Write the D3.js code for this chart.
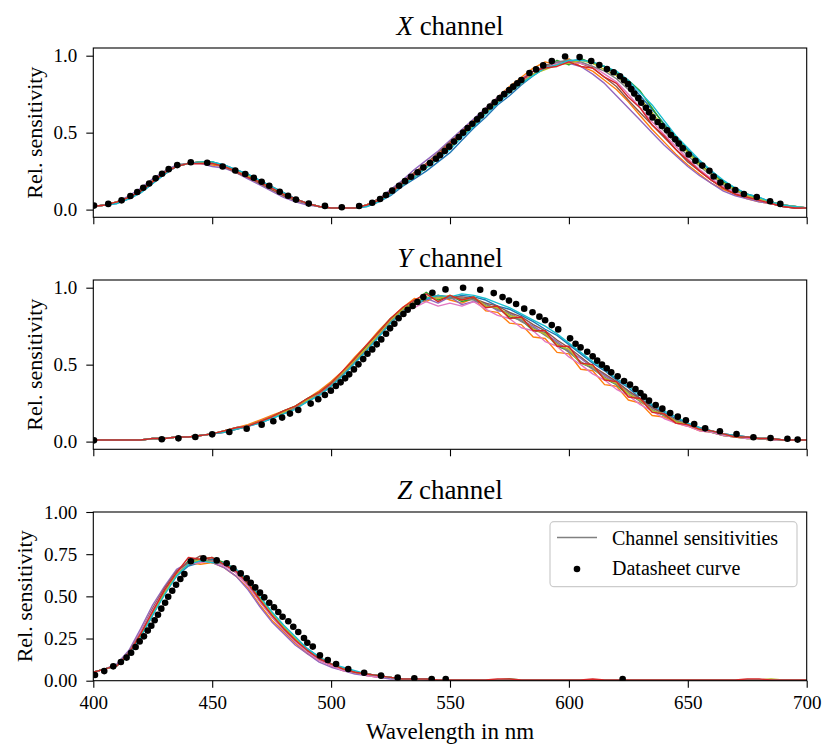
<!DOCTYPE html>
<html>
<head>
<meta charset="utf-8">
<script src="https://cdn.jsdelivr.net/npm/d3@7"></script>
<style>
    body { margin: 0; background: #fff; }
    svg text { font-family: "Liberation Serif", "DejaVu Serif", serif; fill: #000; }
</style>
</head>
<body>
<div id="chart"></div>
<script>

// wavelength grid of the measured channel curves (nm)
const wavelengths = [400,405,410,415,420,425,430,435,440,445, 450,455,460,465,470,475,480,485,490,495,
    500,505,510,515,520,525,530,535,540,545, 550,555,560,565,570,575,580,585,590,595,
    600,605,610,615,620,625,630,635,640,645, 650,655,660,665,670,675,680,685,690,695, 700];

// relative sensitivities in percent, one row per sensor
const xChannelCurves = [
    [2,3,4,7,11,17,23,28,30,31, 31,29,26,23,19,15,11,7,4,2, 1,1,1,2,5,9,15,20,25,31, 37,45,53,60,68,74,81,87,92,95, 96,98,95,93,88,83,74,65,56,47, 39,31,25,18,14,10,8,5,3,2, 1],
    [2,3,5,8,13,19,25,28,30,30, 29,28,24,21,17,13,9,6,4,2, 1,1,1,3,7,12,18,24,30,36, 43,51,58,66,73,80,86,92,96,94, 98,93,90,84,78,70,61,52,44,36, 29,23,17,13,10,7,5,4,2,1, 1],
    [2,3,5,8,12,18,24,29,30,31, 31,28,25,22,18,14,10,7,4,2, 1,1,1,3,6,11,17,23,28,34, 40,48,55,63,70,78,83,88,92,97, 94,98,95,93,89,84,77,66,55,47, 38,30,23,18,13,10,7,5,3,2, 1],
    [2,3,5,9,14,20,25,29,30,30, 28,27,24,20,16,12,8,5,3,2, 1,1,1,3,7,13,19,26,32,38, 45,52,59,66,73,79,85,90,93,96, 95,93,88,82,74,66,58,50,42,35, 28,22,17,12,9,7,5,4,2,1, 1],
    [2,3,5,8,12,18,24,28,30,31, 30,28,24,21,17,13,9,6,4,2, 1,1,1,3,7,12,18,24,30,37, 44,50,57,65,72,78,84,88,94,95, 97,95,92,86,80,71,63,55,47,39, 31,25,19,14,10,8,6,4,2,1, 1],
    [2,3,5,8,12,18,24,28,30,30, 30,28,25,22,18,14,10,7,4,2, 1,1,1,3,6,11,17,22,28,34, 41,48,56,63,71,76,83,88,92,95, 96,95,93,88,83,75,66,57,49,41, 33,26,20,15,11,8,6,4,3,2, 1],
    [2,3,5,8,12,18,23,28,30,31, 30,28,25,22,19,15,11,7,4,2, 1,1,1,3,6,10,16,22,28,34, 40,48,56,63,70,77,82,88,93,96, 97,96,93,90,85,78,69,60,51,43, 35,28,22,16,12,9,7,5,3,2, 1],
    [2,3,5,8,12,18,24,28,30,31, 30,28,25,22,18,14,10,7,4,2, 1,1,1,3,6,11,16,21,27,33, 40,48,55,63,70,76,82,88,91,94, 95,97,95,91,87,80,72,63,53,45, 37,29,23,17,13,9,7,5,3,2, 1],
    [2,3,4,7,11,17,23,28,30,31, 31,29,26,23,19,15,11,7,4,2, 1,1,1,2,5,10,16,21,27,33, 39,47,54,62,69,76,82,87,92,94, 97,97,96,93,90,84,76,68,58,48, 40,32,25,19,14,10,8,5,3,2, 1],
    [2,3,5,8,12,18,24,28,30,30, 30,28,25,21,18,14,10,7,4,2, 1,1,1,3,6,11,17,23,29,35, 43,50,56,65,71,78,84,90,92,93, 96,93,92,86,82,73,66,55,48,39, 32,25,19,14,10,8,6,4,2,1, 1]
];

const yChannelCurves = [
    [1,1,1,1,1,2,2,3,3,4, 5,6,8,10,12,15,18,22,26,30, 36,43,51,59,68,77,84,89,92,95, 93,95,94,92,88,86,82,78,73,69, 63,57,51,46,40,35,28,23,19,15, 12,9,7,5,4,3,2,2,1,1, 1],
    [1,1,1,1,1,2,2,3,3,4, 5,7,9,11,14,17,20,23,28,33, 39,46,55,63,72,80,87,93,91,95, 92,90,93,85,84,77,76,68,67,58, 57,47,46,37,36,27,25,17,16,12, 10,7,6,4,3,2,2,1,1,1, 1],
    [1,1,1,1,1,2,2,3,3,4, 5,7,9,10,13,16,20,23,28,32, 38,45,54,62,71,80,86,91,97,92, 95,91,93,88,87,81,79,72,71,62, 59,51,48,41,37,30,27,20,17,13, 11,8,6,4,3,2,2,1,1,1, 1],
    [1,1,1,1,1,2,2,3,3,4, 5,7,9,10,13,16,19,22,27,31, 37,44,52,60,69,78,84,89,93,90, 94,89,91,90,85,84,79,75,70,65, 59,54,48,43,38,33,27,22,18,14, 11,8,7,5,3,3,2,2,1,1, 1],
    [1,1,1,1,1,2,2,3,3,4, 5,6,8,10,13,16,19,22,27,31, 37,44,52,61,70,79,85,91,93,95, 94,94,93,90,88,84,81,76,72,66, 61,55,49,44,39,33,28,22,18,14, 11,9,7,5,4,3,2,2,1,1, 1],
    [1,1,1,1,1,2,2,3,3,4, 5,7,9,10,13,16,19,22,27,31, 37,44,52,61,70,78,84,87,91,88, 90,88,91,86,82,80,74,72,65,62, 55,50,44,40,34,30,24,20,15,12, 10,7,6,4,3,2,2,1,1,1, 1],
    [1,1,1,1,1,2,2,3,3,4, 5,7,9,10,13,16,19,22,27,31, 37,44,52,60,69,78,85,90,93,94, 93,93,92,89,86,83,78,74,69,64, 58,52,47,42,37,32,26,21,17,14, 11,8,7,5,3,3,2,2,1,1, 1],
    [1,1,1,1,1,2,2,3,3,4, 5,7,9,10,13,16,19,23,27,32, 38,45,53,61,70,79,86,90,94,93, 95,92,94,88,87,82,80,73,70,63, 60,51,49,41,38,31,27,20,18,13, 11,8,7,5,3,3,2,2,1,1, 1],
    [1,1,1,1,1,2,2,3,3,4, 5,6,8,10,12,15,18,21,26,30, 36,43,51,59,68,77,84,89,93,95, 94,96,95,93,90,87,83,79,75,70, 64,58,52,47,41,36,30,24,20,16, 12,9,7,5,4,3,2,2,1,1, 1],
    [1,1,1,1,1,2,2,3,3,4, 5,7,9,10,13,16,20,23,28,32, 38,46,54,63,71,80,87,92,96,91, 95,92,94,87,88,80,81,72,72,62, 62,51,50,40,39,29,28,19,18,12, 11,8,7,5,3,3,2,2,1,1, 1]
];

const zChannelCurves = [
    [5,7,9,15,26,39,52,62,68,70, 72,70,66,59,49,40,32,25,19,14, 10,7,5,4,3,2,1,1,1,.5, .5,.5,.5,.5,.5,.5,.5,.5,.5,.5, .5,.5,.5,.5,.5,.5,.5,.5,.5,.5, .5,.5,.5,.5,.5,.5,.5,.5,.5,.5, .5],
    [5,7,9,16,27,40,52,63,70,69, 70,67,62,55,45,36,29,22,16,12, 9,6,5,3,2,2,1,1,1,.5, .5,.5,.5,.5,.5,.5,.5,.5,.5,.5, .5,.5,.5,.5,.5,.5,.5,.5,.5,.5, .5,.5,.5,.5,.5,.5,.5,.5,.5,.5, .5],
    [5,7,9,16,28,41,53,64,71,72, 73,70,65,58,48,39,31,24,18,13, 10,7,5,4,3,2,1,1,1,.5, .5,.5,.5,.5,.5,1,.5,.5,.5,.5, .5,.5,.5,.5,.5,.5,.5,.5,.5,.5, .5,.5,.5,.5,.5,.5,.5,.5,.5,.5, .5],
    [5,7,10,18,31,45,56,66,70,71, 70,67,62,54,44,35,28,21,16,11, 8,6,4,3,2,1,1,1,.5,.5, .5,.5,.5,.5,.5,.5,.5,.5,.5,.5, .5,.5,.5,.5,.5,.5,.5,.5,.5,.5, .5,.5,.5,.5,.5,.5,.5,.5,.5,.5, .5],
    [5,7,9,17,29,43,55,65,70,74, 71,69,64,57,47,38,30,23,17,13, 9,7,5,4,3,2,1,1,1,.5, .5,.5,.5,.5,.5,.5,.5,.5,.5,.5, .5,.5,.5,.5,.5,.5,.5,.5,.5,.5, .5,.5,.5,.5,.5,.5,.5,.5,.5,.5, .5],
    [5,7,9,16,29,42,54,64,69,70, 71,68,64,56,47,38,30,23,17,12, 9,6,5,3,2,2,1,1,1,.5, .5,.5,.5,.5,.5,.5,.5,.5,.5,.5, .5,.5,.5,.5,.5,.5,.5,.5,.5,.5, .5,.5,.5,.5,.5,.5,.5,.5,.5,.5, .5],
    [5,7,9,16,28,41,53,63,69,71, 71,69,65,58,48,39,31,24,18,13, 10,7,5,4,3,2,1,1,1,.5, .5,.5,.5,.5,.5,.5,.5,.5,.5,.5, .5,.5,.5,.5,.5,.5,.5,.5,.5,.5, .5,.5,.5,.5,.5,.5,.5,.5,.5,.5, .5],
    [5,7,9,15,27,40,52,63,69,72, 70,70,66,58,49,40,32,25,18,14, 10,7,5,4,3,2,1,1,1,.5, .5,.5,.5,.5,.5,.5,.5,.5,.5,.5, .5,.5,.5,.5,.5,.5,.5,.5,.5,.5, .5,.5,.5,.5,.5,.5,.5,1,.5,.5, .5],
    [5,7,9,15,26,39,51,62,69,71, 70,70,66,60,50,41,33,26,19,14, 10,8,6,4,3,2,1,1,1,.5, .5,.5,.5,.5,.5,.5,.5,.5,.5,.5, .5,.5,.5,.5,.5,.5,.5,.5,.5,.5, .5,.5,.5,.5,.5,.5,.5,.5,.5,.5, .5],
    [5,7,9,16,28,41,54,64,73,72, 73,69,65,58,48,39,31,24,18,13, 10,7,5,4,3,2,1,1,1,.5, .5,.5,.5,.5,1,1,.5,.5,.5,.5, .5,.5,1,.5,.5,.5,.5,.5,.5,.5, .5,.5,.5,.5,.5,1,1,.5,.5,.5, .5]
];

// datasheet points, [wavelength nm, percent]
const xDatasheet = [[400.3,2.6],[406.3,3.7],[411.9,6.0],[415.6,8.8],[418.5,11.4],[421.0,14.2],[423.5,17.0],[426.2,20.3],[428.9,23.3],[431.7,26.3],
    [435.3,28.9],[441.0,30.8],[447.9,30.4],[454.4,28.0],[459.7,25.4],[463.9,23.1],[467.5,20.7],[470.8,18.1],[474.0,15.5],[478.4,11.6],
    [481.9,9.0],[485.2,6.5],[490.6,3.9],[497.4,2.4],[504.5,1.5],[511.8,2.3],[517.3,4.5],[520.6,6.9],[523.1,9.5],[525.7,12.3],
    [528.6,15.5],[531.1,18.5],[533.6,21.3],[536.4,24.3],[538.8,27.4],[541.6,30.2],[544.1,33.0],[545.8,35.3],[547.8,38.1],[549.7,40.9],
    [551.7,44.2],[553.7,47.2],[555.5,50.0],[557.4,53.0],[559.4,55.8],[561.4,58.6],[563.0,61.2],[564.8,64.2],[566.8,67.0],[568.8,69.8],
    [570.9,72.4],[572.8,75.0],[574.9,77.6],[576.6,79.9],[578.3,82.1],[580.0,84.2],[583.4,88.8],[586.2,91.1],[589.2,93.7],[592.8,96.5],
    [598.4,99.5],[604.5,99.1],[609.4,96.5],[612.8,93.9],[616.0,91.3],[618.8,89.2],[621.5,86.6],[623.2,84.0],[624.9,81.5],[626.2,78.4],
    [627.5,75.4],[629.2,72.4],[630.4,69.4],[632.4,66.1],[633.7,63.2],[635.2,59.9],[637.3,56.9],[639.1,54.3],[641.3,51.5],[642.9,48.5],
    [644.7,45.7],[646.2,42.9],[647.9,39.9],[650.4,35.8],[653.2,31.7],[656.1,28.6],[659.1,25.2],[660.9,21.5],[663.7,17.6],[666.8,15.1],
    [670.0,12.7],[673.6,10.1],[679.0,8.2],[684.6,5.4],[688.9,3.7]];

const yDatasheet = [[400.3,0.8],[428.8,1.5],[435.8,2.1],[442.9,3.0],[450.0,4.7],[457.2,6.2],[464.5,8.4],[470.8,11.0],[475.7,13.2],[479.4,15.6],
    [482.7,18.2],[486.2,20.5],[491.4,24.7],[494.6,27.5],[497.4,30.3],[499.9,33.1],[502.0,36.1],[504.0,38.5],[505.9,41.1],[507.6,43.7],
    [509.6,46.9],[511.5,50.2],[513.5,53.6],[515.3,57.1],[517.3,59.9],[519.2,63.2],[521.1,66.4],[523.1,70.1],[524.8,73.6],[526.6,76.6],
    [528.4,80.1],[530.4,82.9],[532.2,85.7],[534.3,88.1],[536.3,90.7],[538.8,93.9],[542.6,96.7],[548.1,98.9],[555.5,100.0],[562.7,98.7],
    [568.4,96.5],[572.1,93.9],[574.8,91.6],[577.8,89.4],[581.2,86.4],[584.7,84.0],[587.6,81.2],[590.0,78.8],[592.8,75.7],[595.5,72.9],
    [600.5,67.1],[602.8,63.6],[604.9,61.2],[607.7,58.4],[610.0,55.4],[611.9,52.6],[613.9,50.0],[615.9,47.6],[617.8,45.0],[620.5,42.4],
    [623.2,39.4],[625.7,37.0],[628.0,34.2],[630.1,31.6],[631.6,29.2],[633.7,26.6],[636.5,23.8],[639.3,21.4],[642.6,18.6],[645.8,16.2],
    [649.2,13.8],[652.7,11.4],[657.3,8.6],[663.5,6.7],[670.5,4.9],[677.6,2.8],[684.8,2.3],[691.9,1.9],[696.2,1.3]];

const zDatasheet = [[400.7,3.4],[404.6,5.7],[408.4,8.5],[411.6,11.1],[414.0,13.7],[415.9,16.6],[417.8,20.0],[419.5,23.3],[421.3,26.3],[422.9,29.7],
    [424.4,32.6],[425.8,35.8],[427.2,39.1],[428.6,42.7],[430.2,46.2],[431.5,49.8],[433.2,53.3],[434.8,56.9],[436.6,60.3],[438.3,63.2],
    [441.0,70.8],[446.3,72.5],[451.9,71.3],[456.1,69.6],[458.9,66.6],[462.0,63.6],[464.5,60.7],[466.2,58.1],[468.1,55.3],[470.1,52.2],
    [471.9,49.4],[474.0,46.2],[476.0,43.5],[477.8,40.7],[479.6,37.9],[482.0,35.2],[484.1,32.0],[486.2,28.9],[488.6,25.3],[490.0,22.5],
    [492.3,20.2],[495.3,15.0],[498.6,12.3],[502.1,9.9],[507.2,6.9],[513.9,4.7],[521.0,3.0],[528.0,1.8],[535.0,1.4],[542.3,1.0],
    [548.2,1.0],[622.6,1.0]];

const curveColors = ["#1f77b4","#ff7f0e","#2ca02c","#9467bd","#8c564b","#e377c2","#7f7f7f","#bcbd22","#17becf","#d62728"];

const wavelengthTicks = [400,450,500,550,600,650,700];
const coarseTicks = [0,50,100];
const coarseTickLabels = ["0.0","0.5","1.0"];
const fineTicks = [0,25,50,75,100];
const fineTickLabels = ["0.00","0.25","0.50","0.75","1.00"];

const legendLabels = ["Channel sensitivities","Datasheet curve"];

const layout = {left: 93.3, right: 806.7};

class ChannelPanel {

    constructor(svg, panel) {
        this.svg = svg;
        this.panel = panel;
        this.initVis();
    }

    initVis() {
        let vis = this;

        vis.x = d3.scaleLinear()
            .domain([wavelengths[0], wavelengths[wavelengths.length - 1]])
            .range([layout.left, layout.right]);

        vis.y = d3.scaleLinear()
            .domain(vis.panel.yDomain)
            .range([vis.panel.bottom, vis.panel.top]);

        vis.g = vis.svg.append("g").attr("class", "panel-" + vis.panel.name);

        // lines get clipped at the frame
        vis.clipId = "clip-" + vis.panel.name;
        vis.g.append("clipPath").attr("id", vis.clipId)
            .append("rect")
            .attr("x", layout.left).attr("y", vis.panel.top)
            .attr("width", layout.right - layout.left)
            .attr("height", vis.panel.bottom - vis.panel.top);

        vis.line = d3.line()
            .x((d, i) => vis.x(wavelengths[i]))
            .y(d => vis.y(d));

        vis.xAxis = d3.axisBottom(vis.x)
            .tickValues(wavelengthTicks)
            .tickSize(7)
            .tickPadding(8)
            .tickFormat(vis.panel.showXLabels ? d3.format("d") : () => "");

        vis.yAxis = d3.axisLeft(vis.y)
            .tickValues(vis.panel.ticks)
            .tickSize(7)
            .tickPadding(9)
            .tickFormat((d, i) => vis.panel.tickLabels[i]);

        vis.updateVis();
    }

    updateVis() {
        let vis = this;

        vis.g.append("g")
            .attr("clip-path", "url(#" + vis.clipId + ")")
            .selectAll("path")
            .data(vis.panel.curves)
            .enter().append("path")
            .attr("d", vis.line)
            .attr("fill", "none")
            .attr("stroke", (d, i) => curveColors[i % curveColors.length])
            .attr("stroke-width", 1.4)
            .attr("stroke-linejoin", "round");

        vis.g.append("g")
            .attr("clip-path", "url(#" + vis.clipId + ")")
            .selectAll("circle")
            .data(vis.panel.datasheet)
            .enter().append("circle")
            .attr("cx", d => vis.x(d[0]))
            .attr("cy", d => vis.y(d[1]))
            .attr("r", 3.3)
            .attr("fill", "#000");

        // frame
        vis.g.append("rect")
            .attr("x", layout.left).attr("y", vis.panel.top)
            .attr("width", layout.right - layout.left)
            .attr("height", vis.panel.bottom - vis.panel.top)
            .attr("fill", "none")
            .attr("stroke", "#000")
            .attr("stroke-width", 1.1);

        let xg = vis.g.append("g")
            .attr("transform", "translate(0," + vis.panel.bottom + ")")
            .call(vis.xAxis);
        let yg = vis.g.append("g")
            .attr("transform", "translate(" + layout.left + ",0)")
            .call(vis.yAxis);

        [xg, yg].forEach(ax => {
            ax.select(".domain").remove();
            ax.attr("font-family", null).attr("font-size", null);
            ax.selectAll("line").attr("stroke", "#000").attr("stroke-width", 1.1);
            ax.selectAll("text").attr("font-size", "19px").attr("fill", "#000");
        });

        // title with italic channel letter
        let title = vis.g.append("text")
            .attr("x", (layout.left + layout.right) / 2)
            .attr("y", vis.panel.top - 13.5)
            .attr("text-anchor", "middle")
            .attr("font-size", "27px");
        title.append("tspan").attr("font-style", "italic").text(vis.panel.name);
        title.append("tspan").text(" channel");

        vis.g.append("text")
            .attr("transform", "translate(" + vis.panel.labelX + "," + (vis.panel.top + vis.panel.bottom) / 2 + ") rotate(-90)")
            .attr("text-anchor", "middle")
            .attr("dy", "0.35em")
            .attr("font-size", "22px")
            .text("Rel. sensitivity");

        if (vis.panel.showLegend) vis.drawLegend();
    }

    drawLegend() {
        let vis = this;
        let lg = vis.g.append("g").attr("class", "legend");

        lg.append("rect")
            .attr("x", 550).attr("y", 521.7)
            .attr("width", 247).attr("height", 65)
            .attr("rx", 4)
            .attr("fill", "#fff").attr("fill-opacity", 0.8)
            .attr("stroke", "#cccccc").attr("stroke-width", 1.2);

        lg.append("line")
            .attr("x1", 557).attr("x2", 597)
            .attr("y1", 537.5).attr("y2", 537.5)
            .attr("stroke", "#808080").attr("stroke-width", 1.4);

        lg.append("circle")
            .attr("cx", 577).attr("cy", 569).attr("r", 3.3)
            .attr("fill", "#000");

        lg.selectAll(".legend-label")
            .data(legendLabels)
            .enter().append("text")
            .attr("class", "legend-label")
            .attr("x", 612)
            .attr("y", (d, i) => 544.5 + i * 30.5)
            .attr("font-size", "20px")
            .text(d => d);
    }
}

let svg = d3.select("#chart").append("svg")
    .attr("width", 822)
    .attr("height", 745);

new ChannelPanel(svg, {name: "X", curves: xChannelCurves, datasheet: xDatasheet, top: 48, bottom: 217.3,
    yDomain: [-5, 105], ticks: coarseTicks, tickLabels: coarseTickLabels, labelX: 34});
new ChannelPanel(svg, {name: "Y", curves: yChannelCurves, datasheet: yDatasheet, top: 280, bottom: 449.3,
    yDomain: [-5, 105], ticks: coarseTicks, tickLabels: coarseTickLabels, labelX: 34});
new ChannelPanel(svg, {name: "Z", curves: zChannelCurves, datasheet: zDatasheet, top: 512, bottom: 680.7,
    yDomain: [0, 100], ticks: fineTicks, tickLabels: fineTickLabels, labelX: 24, showXLabels: true, showLegend: true});

svg.append("text")
    .attr("x", (layout.left + layout.right) / 2)
    .attr("y", 739)
    .attr("text-anchor", "middle")
    .attr("font-size", "23px")
    .text("Wavelength in nm");

</script>
</body>
</html>
